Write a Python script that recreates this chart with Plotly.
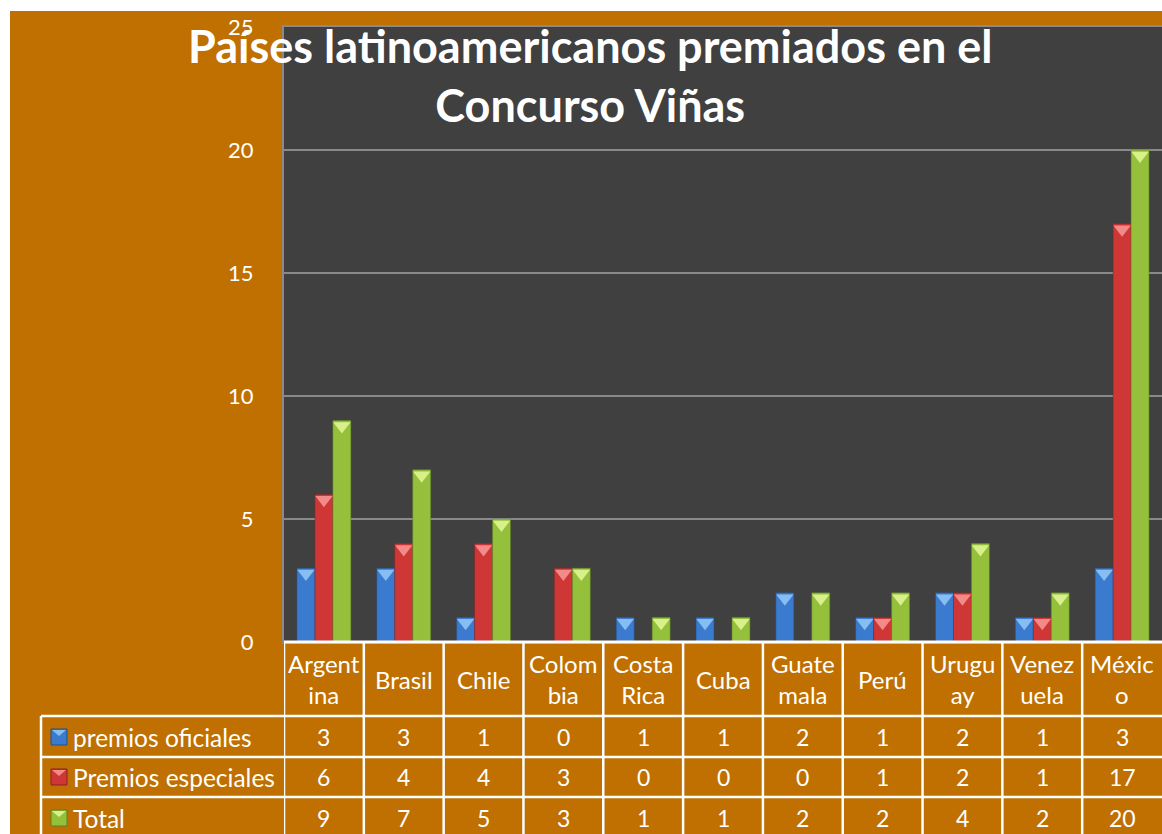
import plotly.graph_objects as go

W, H = 1162, 834

countries = ["Argentina", "Brasil", "Chile", "Colombia", "Costa Rica", "Cuba",
             "Guatemala", "Perú", "Uruguay", "Venezuela", "México"]
header_labels = ["Argent<br>ina", "Brasil", "Chile", "Colom<br>bia", "Costa<br>Rica", "Cuba",
                 "Guate<br>mala", "Perú", "Urugu<br>ay", "Venez<br>uela", "Méxic<br>o"]
series_names = ["premios oficiales", "Premios especiales", "Total"]
premios_oficiales = [3, 3, 1, 0, 1, 1, 2, 1, 2, 1, 3]
premios_especiales = [6, 4, 4, 3, 0, 0, 0, 1, 2, 1, 17]
total = [9, 7, 5, 3, 1, 1, 2, 2, 4, 2, 20]
y_ticks = [0, 5, 10, 15, 20, 25]

series_values = [premios_oficiales, premios_especiales, total]
bar_colors = ["#3A7BD0", "#CF3636", "#94C03C"]
tip_colors = ["#86BDF2", "#F28A8A", "#D8F08A"]
edge_colors = ["#24508A", "#8A2020", "#5E8022"]

ORANGE = "#BF7000"
PLOT_BG = "#404040"
FONT = "Lato"


def px(x):
    return x / W


def py(y):
    return 1 - y / H


fig = go.Figure()

for i, (name, vals) in enumerate(zip(series_names, series_values)):
    fig.add_trace(go.Bar(
        x=countries, y=vals, name=name,
        marker=dict(color=bar_colors[i], line=dict(color=edge_colors[i], width=0.5)),
        offsetgroup=str(i), showlegend=False,
    ))
for i, (name, vals) in enumerate(zip(series_names, series_values)):
    fig.add_trace(go.Scatter(
        x=countries, y=[v - 0.22 if v > 0 else None for v in vals],
        mode="markers", offsetgroup=str(i), showlegend=False, hoverinfo="skip",
        marker=dict(symbol="triangle-down", size=15, color=tip_colors[i],
                    line=dict(width=0)),
    ))

shapes = []
# white page edges around the orange panel
shapes.append(dict(type="rect", xref="paper", yref="paper", x0=0, x1=1,
                   y0=py(11), y1=1, fillcolor="white", line=dict(width=0), layer="below"))
shapes.append(dict(type="rect", xref="paper", yref="paper", x0=0, x1=px(10),
                   y0=0, y1=1, fillcolor="white", line=dict(width=0), layer="below"))

plot_top, plot_bot, plot_left = 27, 642, 284
row_lines = [642, 716, 757, 797]
row_centers = [737, 777, 818]
table_left = 41

# table horizontal lines
shapes.append(dict(type="line", xref="paper", yref="paper", x0=px(plot_left), x1=1,
                   y0=py(row_lines[0]), y1=py(row_lines[0]), line=dict(color="white", width=3),
                   layer="above"))
for r in row_lines[1:]:
    shapes.append(dict(type="line", xref="paper", yref="paper", x0=px(table_left), x1=1,
                       y0=py(r), y1=py(r), line=dict(color="white", width=2.5), layer="above"))
# vertical lines at category boundaries
for k in range(len(countries)):
    shapes.append(dict(type="line", xref="x", yref="paper", x0=k - 0.5, x1=k - 0.5,
                       y0=0, y1=py(row_lines[0]), line=dict(color="white", width=2.5),
                       layer="above"))
shapes.append(dict(type="line", xref="paper", yref="paper", x0=px(table_left), x1=px(table_left),
                   y0=0, y1=py(row_lines[1]), line=dict(color="white", width=2.5), layer="above"))
# legend keys
for i, rc in enumerate(row_centers):
    shapes.append(dict(type="rect", xref="paper", yref="paper", x0=px(51), x1=px(67),
                       y0=py(rc + 8), y1=py(rc - 8), fillcolor=bar_colors[i],
                       line=dict(color=edge_colors[i], width=1), layer="above"))
    shapes.append(dict(type="path", xref="paper", yref="paper",
                       path=f"M {px(52)},{py(rc-7)} L {px(66)},{py(rc-7)} L {px(59)},{py(rc-1)} Z",
                       fillcolor=tip_colors[i], line=dict(width=0), layer="above"))

annotations = []
for c, lab in zip(countries, header_labels):
    annotations.append(dict(x=c, xref="x", y=py(679), yref="paper", text=lab, showarrow=False,
                            font=dict(family=FONT, size=24, color="white"), xanchor="center",
                            yanchor="middle", align="center"))
for i, vals in enumerate(series_values):
    for c, v in zip(countries, vals):
        annotations.append(dict(x=c, xref="x", y=py(row_centers[i]), yref="paper", text=str(v),
                                showarrow=False, font=dict(family=FONT, size=23, color="white"),
                                xanchor="center", yanchor="middle"))
    annotations.append(dict(x=px(71), xref="paper", y=py(row_centers[i]), yref="paper",
                            text=series_names[i], showarrow=False,
                            font=dict(family=FONT, size=24.5, color="white"),
                            xanchor="left", yanchor="middle"))
# title
annotations.append(dict(x=px(590), xref="paper", y=py(75), yref="paper",
                        text="<b>Países latinoamericanos premiados en el<br>Concurso Viñas</b>",
                        showarrow=False, font=dict(family=FONT, size=45, color="white"),
                        xanchor="center", yanchor="middle", align="center"))

fig.update_layout(
    width=W, height=H,
    margin=dict(l=0, r=0, t=0, b=0, autoexpand=False),
    paper_bgcolor=ORANGE,
    plot_bgcolor=PLOT_BG,
    barmode="group", bargap=0.325, bargroupgap=0,
    scattermode="group", scattergap=0.325,
    showlegend=False,
    shapes=shapes,
    annotations=annotations,
    xaxis=dict(domain=[px(plot_left), 1], range=[-0.5, len(countries) - 0.5],
               showticklabels=False, showgrid=False, zeroline=False, ticks="",
               automargin=False,
               showline=True, linecolor="#8A8A8A", linewidth=2, mirror=True),
    yaxis=dict(domain=[py(plot_bot), py(plot_top)], range=[0, 25], tickvals=y_ticks,
               showgrid=True, gridcolor="#8A8A8A", gridwidth=1.5, zeroline=False,
               tickfont=dict(family=FONT, size=22, color="white"), ticks="",
               ticklabelstandoff=24, automargin=False,
               showline=True, linecolor="#8A8A8A", linewidth=2, mirror=True),
)

fig.write_html("out.html", config={"displayModeBar": False},
               post_script="document.body.style.margin='0';document.body.style.overflow='hidden';")
